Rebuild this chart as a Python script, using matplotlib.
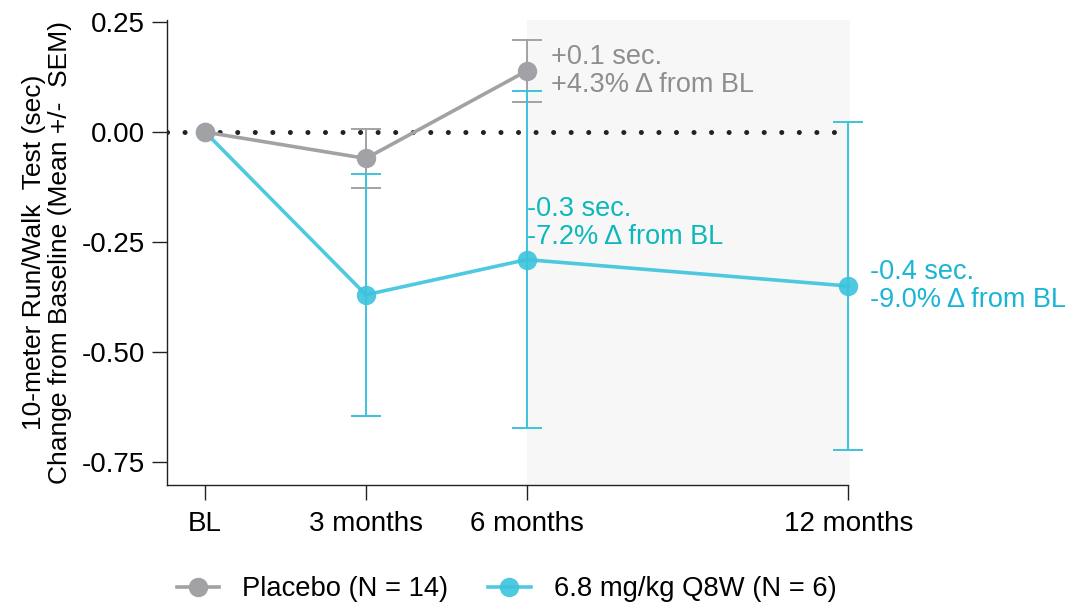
import numpy as np
import matplotlib.pyplot as plt

plt.rcParams['font.family'] = ['Liberation Sans', 'DejaVu Sans']

# time points (months) and labels
months = [0, 3, 6, 12]
tick_labels = ['BL', '3 months', '6 months', '12 months']

# placebo: change from baseline, SEM
placebo_x = [0, 3, 6]
placebo_mean = [0.0, -0.06, 0.139]
placebo_sem = [0.0, 0.068, 0.07]

# 6.8 mg/kg Q8W
drug_x = [0, 3, 6, 12]
drug_mean = [0.0, -0.37, -0.29, -0.35]
drug_sem = [0.0, 0.275, 0.383, 0.372]

grey = '#a2a2a6'
cyan = '#3cc3dd'

fig = plt.figure(figsize=(10.71, 6.03), dpi=100)
ax = fig.add_axes([0.156, 0.196, 0.636, 0.771])

# shaded open-label period
ax.axvspan(6, 12.03, color='#f7f7f7', zorder=0, lw=0, clip_on=False)

# zero reference line
ax.axhline(0, color='#222222', ls=(0, (0.01, 3.5)), lw=3.6, dash_capstyle='round', zorder=1)

# error bars (no bar at BL)
ax.errorbar(placebo_x[1:], placebo_mean[1:], yerr=placebo_sem[1:], fmt='none',
            ecolor=grey, elinewidth=1.4, capsize=11, capthick=1.4, zorder=2)
eb = ax.errorbar(drug_x[1:], drug_mean[1:], yerr=drug_sem[1:], fmt='none',
                 ecolor=cyan, elinewidth=1.4, capsize=11, capthick=1.4, zorder=2)
for art in eb.lines[1] + eb.lines[2]:
    art.set_clip_on(False)

ax.plot(drug_x, drug_mean, color=cyan, lw=2.6, marker='o', ms=14,
        markeredgewidth=0, alpha=0.9, zorder=3, clip_on=False, label='6.8 mg/kg Q8W (N = 6)')
ax.plot(placebo_x, placebo_mean, color=grey, lw=2.6, marker='o', ms=14,
        markeredgewidth=0, zorder=4, label='Placebo (N = 14)')

# annotations
ax.text(6.45, 0.139, '+0.1 sec.\n+4.3% \u0394 from BL', color='#8e8e90', fontsize=19.5,
        va='center', ha='left', linespacing=1.1)
ax.text(6.0, -0.206, '-0.3 sec.\n-7.2% \u0394 from BL', color='#0cb8bb', fontsize=19.5,
        va='center', ha='left', linespacing=1.1)
ax.text(12.4, -0.35, '-0.4 sec.\n-9.0% \u0394 from BL', color='#1ab5d5', fontsize=19.5,
        va='center', ha='left', linespacing=1.1)

ax.set_xlim(-0.71, 12.0)
ax.set_ylim(-0.802, 0.255)
ax.set_xticks(months)
ax.set_xticklabels(tick_labels, fontsize=20)
ax.set_yticks([0.25, 0.0, -0.25, -0.5, -0.75])
ax.set_yticklabels(['0.25', '0.00', '-0.25', '-0.50', '-0.75'], fontsize=20)
ax.tick_params(axis='both', length=11, width=1, color='#222222', pad=5)
ax.tick_params(axis='x', pad=8)

for s in ['top', 'right']:
    ax.spines[s].set_visible(False)
for s in ['left', 'bottom']:
    ax.spines[s].set_color('#222222')
    ax.spines[s].set_linewidth(1)

ax.set_ylabel('10-meter Run/Walk  Test (sec)\nChange from Baseline (Mean +/-  SEM)',
              fontsize=19, linespacing=1.08, labelpad=7)

h, l = ax.get_legend_handles_labels()
fig.legend([h[1], h[0]], [l[1], l[0]], loc='lower center', bbox_to_anchor=(0.473, -0.04),
           ncol=2, frameon=False, fontsize=19.7, columnspacing=1.45, handlelength=1.55,
           handletextpad=0.85)

fig.savefig('out.png', dpi=100)
